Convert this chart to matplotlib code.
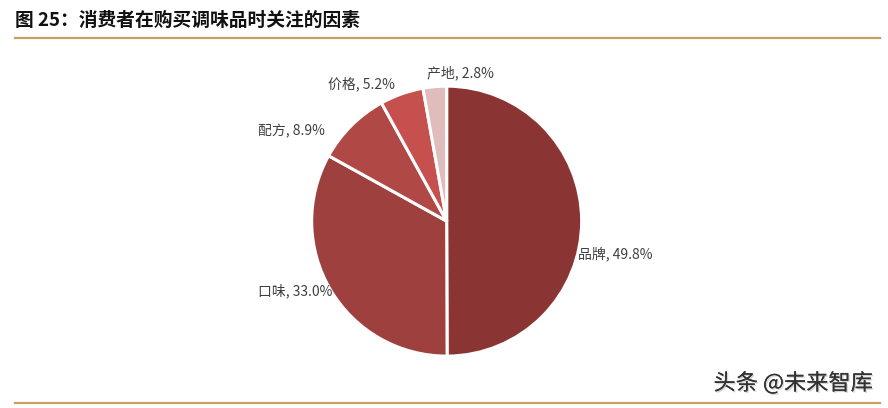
import matplotlib.pyplot as plt
from matplotlib.lines import Line2D
import matplotlib.patheffects as pe

plt.rcParams['font.family'] = ['Noto Sans CJK SC', 'DejaVu Sans']

# 数据
factors = ['品牌', '口味', '配方', '价格', '产地']
shares = [49.8, 33.0, 8.9, 5.2, 2.8]
colors = ['#8a3533', '#9e403e', '#b04846', '#c5504e', '#e0bcbc']
title = '图 25：消费者在购买调味品时关注的因素'

# 标签位置（数据坐标，半径=1）
label_pos = [(0.97, -0.245, 'left'), (-0.85, -0.515, 'right'),
             (-0.90, 0.67, 'right'), (-0.63, 1.015, 'center'),
             (0.105, 1.095, 'center')]

fig = plt.figure(figsize=(8.88, 4.08), dpi=100)
fig.patch.set_facecolor('white')

ax = fig.add_axes([0.503 - 0.152, 0.458 - 0.331, 0.304, 0.662])
wedges, _ = ax.pie(shares, colors=colors, startangle=90, counterclock=False,
                   wedgeprops=dict(edgecolor='white', linewidth=2.2))
ax.set_xlim(-1, 1)
ax.set_ylim(-1, 1)
ax.set_aspect('equal')
ax.axis('off')

for name, val, (x, y, ha) in zip(factors, shares, label_pos):
    ax.text(x, y, f'{name}, {val:.1f}%', ha=ha, va='center', fontsize=10,
            color='#404040', clip_on=False)

fig.text(15 / 888, 1 - 20 / 408, title, fontsize=13.5, fontweight='bold',
         ha='left', va='center', color='#111111')
fig.add_artist(Line2D([15 / 888, 880 / 888], [1 - 38 / 408] * 2,
                      color='#c8a063', linewidth=1.6))
fig.add_artist(Line2D([15 / 888, 880 / 888], [1 - 403 / 408] * 2,
                      color='#c8a063', linewidth=1.6))

fig.text(873 / 888, 1 - 383 / 408, '头条 @未来智库', fontsize=16,
         ha='right', va='center', color='#333333',
         path_effects=[pe.withSimplePatchShadow(offset=(1, -1), shadow_rgbFace='#cccccc', alpha=0.8),
                       pe.Normal()])

fig.savefig('out.png', dpi=100)
